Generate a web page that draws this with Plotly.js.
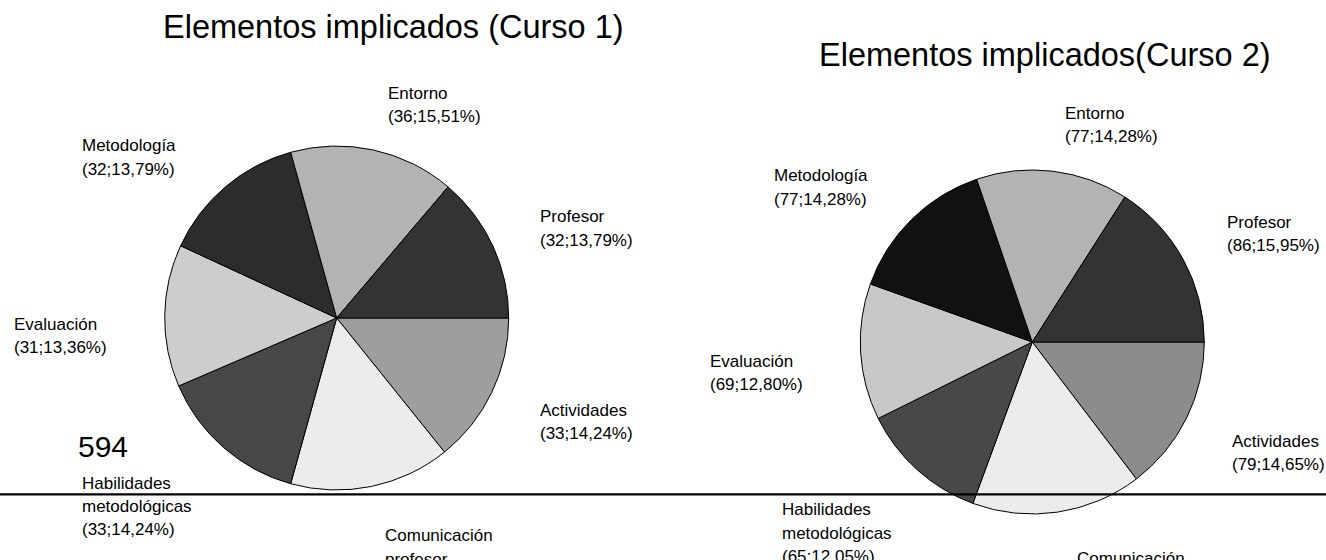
<!DOCTYPE html>
<html>
<head>
<meta charset="utf-8">
<script src="https://cdn.plot.ly/plotly-3.0.1.min.js"></script>
<style>
  html, body { margin: 0; padding: 0; background: #ffffff; }
  #chart { width: 1326px; height: 560px; }
</style>
</head>
<body>
<div id="chart"></div>
<script>
// ---- data, clockwise from 3 o'clock ----
const categories = ["Actividades", "Comunicación profesor", "Habilidades metodológicas",
                    "Evaluación", "Metodología", "Entorno", "Profesor"];
const values1 = [33, 35, 33, 31, 32, 36, 32];
const pct1 = ["14,24", "15,09", "14,24", "13,36", "13,79", "15,51", "13,79"];
const values2 = [79, 86, 65, 69, 77, 77, 86];
const pct2 = ["14,65", "15,96", "12,05", "12,80", "14,28", "14,28", "15,95"];
const title1 = "Elementos implicados (Curso 1)";
const title2 = "Elementos implicados(Curso 2)";
const totalNote = "594";

// ---- styles ----
const colors1 = ["#9e9e9e", "#ececec", "#474747", "#cdcdcd", "#2c2c2c", "#b3b3b3", "#333333"];
const colors2 = ["#8c8c8c", "#ececec", "#484848", "#c8c8c8", "#111111", "#b3b3b3", "#333333"];
const W = 1326, H = 560;
const FONT = "Liberation Sans, Arial, Helvetica, sans-serif";
const LBL = 17;
const LINE_GAP = 23.3;

// label anchor positions (left x, first baseline y) in pixels
const pos1 = [[538, 416], [383, 541.7], [80, 489.3], [12, 330], [80, 151.7], [386, 99], [538, 222.7]];
const pos2 = [[1230, 447], [1075, 564], [780, 515.7], [708, 367.3], [772, 181.7], [1063, 119], [1225, 228.3]];

const px = x => x / W;
const py = y => 1 - y / H;

function pieTrace(values, colors, cx, cy, r) {
  return {
    type: "pie",
    values: values,
    labels: categories,
    sort: false,
    direction: "clockwise",
    rotation: 90,
    textinfo: "none",
    hoverinfo: "label+value+percent",
    marker: { colors: colors, line: { color: "#000000", width: 1 } },
    domain: { x: [px(cx - r), px(cx + r)], y: [py(cy + r), py(cy - r)] },
    showlegend: false
  };
}

function labelAnns(values, pcts, pos) {
  const out = [];
  categories.forEach((c, i) => {
    const lines = c.split(" ").concat(["(" + values[i] + ";" + pcts[i] + "%)"]);
    lines.forEach((t, k) => {
      const base = pos[i][1] + k * LINE_GAP;
      if (base - 13 > H) return; // entirely below the picture
      out.push({
        text: t,
        xref: "paper", yref: "paper",
        x: px(pos[i][0]), y: py(base - 17.5),
        xanchor: "left", yanchor: "top", align: "left",
        showarrow: false,
        font: { family: FONT, size: LBL, color: "#000000" }
      });
    });
  });
  return out;
}

const annotations = [
  { text: title1, xref: "paper", yref: "paper", x: px(393.5), y: py(38.3 - 31.5),
    xanchor: "center", yanchor: "top", showarrow: false,
    font: { family: FONT, size: 32.5, color: "#000000" } },
  { text: title2, xref: "paper", yref: "paper", x: px(1044.5), y: py(66.7 - 31.5),
    xanchor: "center", yanchor: "top", showarrow: false,
    font: { family: FONT, size: 32.5, color: "#000000" } },
  { text: totalNote, xref: "paper", yref: "paper", x: px(76), y: py(456.7 - 29),
    xanchor: "left", yanchor: "top", showarrow: false,
    font: { family: FONT, size: 30, color: "#000000" } }
].concat(labelAnns(values1, pct1, pos1), labelAnns(values2, pct2, pos2));

const data = [
  pieTrace(values1, colors1, 336.7, 318, 172),
  pieTrace(values2, colors2, 1032.3, 342, 172)
];

const layout = {
  width: W, height: H,
  margin: { l: 0, r: 0, t: 0, b: 0 },
  paper_bgcolor: "#ffffff",
  plot_bgcolor: "#ffffff",
  showlegend: false,
  annotations: annotations,
  shapes: [{
    type: "line", xref: "paper", yref: "paper", layer: "above",
    x0: 0, x1: 1, y0: py(494.3), y1: py(494.3),
    line: { color: "#000000", width: 2.2 }
  }]
};

Plotly.newPlot("chart", data, layout, { staticPlot: true, displayModeBar: false });
</script>
</body>
</html>
